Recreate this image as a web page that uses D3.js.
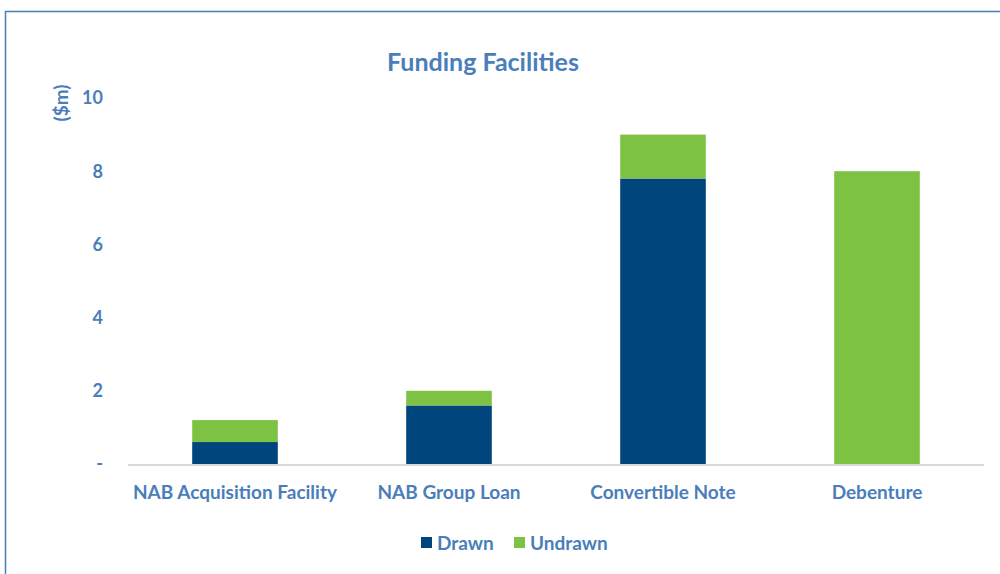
<!DOCTYPE html>
<html>
<head>
<meta charset="utf-8">
<script src="https://cdn.jsdelivr.net/npm/d3@7"></script>
<style>
  body { margin: 0; background: #fff; }
  svg text { font-family: Lato, "Open Sans", sans-serif; font-weight: bold; fill: #4a7ebb; }
</style>
</head>
<body>
<svg id="chart" width="1000" height="574"></svg>
<script>
var categories = ["NAB Acquisition Facility", "NAB Group Loan", "Convertible Note", "Debenture"];
var drawn = [0.6, 1.6, 7.8, 0];
var undrawn = [0.6, 0.4, 1.2, 8.0];
var seriesNames = ["Drawn", "Undrawn"];
var yTicks = [0, 2, 4, 6, 8, 10];

var colors = { Drawn: "#00457c", Undrawn: "#7dc243" };

var width = 1000, height = 574;
var margin = { left: 128, right: 16, top: 98, bottom: 110 };

var svg = d3.select("svg#chart");

// outer frame (runs off the right and bottom edges)
svg.append("rect")
  .attr("x", 5.5).attr("y", 11.5)
  .attr("width", 1100).attr("height", 700)
  .attr("fill", "none")
  .attr("stroke", "#4a7ebb")
  .attr("stroke-width", 1.5);

var table = categories.map(function (c, i) {
  return { category: c, Drawn: drawn[i], Undrawn: undrawn[i] };
});
var stacked = d3.stack().keys(seriesNames)(table);

var x = d3.scaleBand()
  .domain(categories)
  .range([margin.left, width - margin.right])
  .padding(0);

var y = d3.scaleLinear()
  .domain([0, 10])
  .range([height - margin.bottom, margin.top]);

var barW = x.bandwidth() * 0.4;

svg.append("g")
  .selectAll("g")
  .data(stacked)
  .enter()
  .append("g")
  .attr("fill", function (d) { return colors[d.key]; })
  .selectAll("rect")
  .data(function (d) { return d; })
  .enter()
  .append("rect")
  .attr("x", function (d) { return x(d.data.category) + (x.bandwidth() - barW) / 2; })
  .attr("y", function (d) { return y(d[1]); })
  .attr("width", barW)
  .attr("height", function (d) { return y(d[0]) - y(d[1]); });

// baseline
svg.append("line")
  .attr("x1", margin.left).attr("x2", width - margin.right)
  .attr("y1", y(0) + 1).attr("y2", y(0) + 1)
  .attr("stroke", "#d9d9d9")
  .attr("stroke-width", 2);

// y tick labels
svg.append("g")
  .selectAll("text")
  .data(yTicks)
  .enter()
  .append("text")
  .attr("x", 103)
  .attr("y", function (d) { return y(d); })
  .attr("dy", "0.35em")
  .attr("text-anchor", "end")
  .style("font-size", "18px")
  .text(function (d) { return d === 0 ? "-" : d; });

// x labels
svg.append("g")
  .selectAll("text")
  .data(categories)
  .enter()
  .append("text")
  .attr("x", function (d) { return x(d) + x.bandwidth() / 2; })
  .attr("y", 499)
  .attr("text-anchor", "middle")
  .style("font-size", "19px")
  .text(function (d) { return d; });

// title
svg.append("text")
  .attr("x", 483).attr("y", 71)
  .attr("text-anchor", "middle")
  .style("font-size", "25px")
  .text("Funding Facilities");

// y axis title
svg.append("text")
  .attr("transform", "translate(68,103) rotate(-90)")
  .attr("text-anchor", "middle")
  .style("font-size", "19px")
  .text("($m)");

// legend
var legend = svg.append("g").attr("transform", "translate(421,537)");
var legendX = [0, 93];
var items = legend.selectAll("g")
  .data(seriesNames)
  .enter()
  .append("g")
  .attr("transform", function (d, i) { return "translate(" + legendX[i] + ",0)"; });
items.append("rect")
  .attr("width", 11).attr("height", 11)
  .attr("fill", function (d) { return colors[d]; });
items.append("text")
  .attr("x", 16).attr("y", 6)
  .attr("dy", "0.35em")
  .style("font-size", "19px")
  .text(function (d) { return d; });
</script>
</body>
</html>
